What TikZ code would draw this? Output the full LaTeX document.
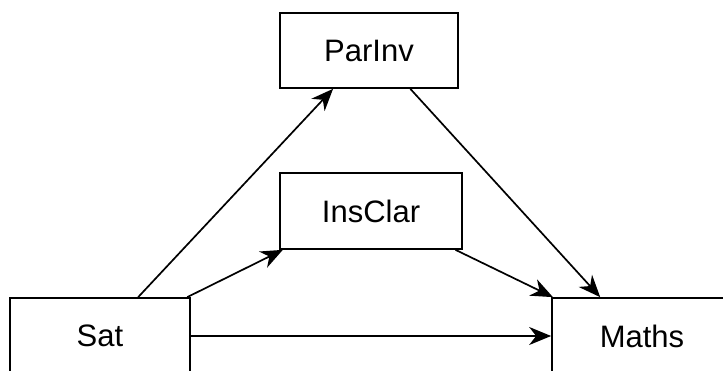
\documentclass[tikz,border=0pt]{standalone}
\usepackage{fontspec}
\setmainfont{Liberation Sans}
\usetikzlibrary{arrows.meta,calc}
\begin{document}
\begin{tikzpicture}[x=1pt,y=-1pt,
  box/.style={draw,line width=1.7pt,minimum width=180pt,minimum height=76pt,inner sep=0pt,font=\fontsize{31}{36}\selectfont},
  arr/.style={line width=1.7pt,-{Stealth[length=22pt,width=18pt,inset=7pt]}}]
\useasboundingbox (0,0) rectangle (723,371);
\begin{scope}
\clip (0,0) rectangle (723,371);
\node[box,minimum width=178pt,minimum height=75pt] (parinv) at (369,50.5) {ParInv};
\node[box,minimum width=182pt] (insclar) at (371,211) {InsClar};
\node[box] (sat) at (100,336) {Sat};
\node[box] (maths) at (642,336) {Maths};
\draw[arr] ($(sat.north west)!0.71!(sat.north east)$) -- ($(parinv.south west)!0.30!(parinv.south east)$);
\draw[arr] ($(sat.north west)!0.98!(sat.north east)$) -- ($(insclar.south west)!0.02!(insclar.south east)$);
\draw[arr] ($(insclar.south west)!0.96!(insclar.south east)$) -- ($(maths.north west)!0.01!(maths.north east)$);
\draw[arr] ($(parinv.south west)!0.73!(parinv.south east)$) -- ($(maths.north west)!0.27!(maths.north east)$);
\draw[arr] (sat.east) -- (maths.west);
\end{scope}
\end{tikzpicture}
\end{document}
